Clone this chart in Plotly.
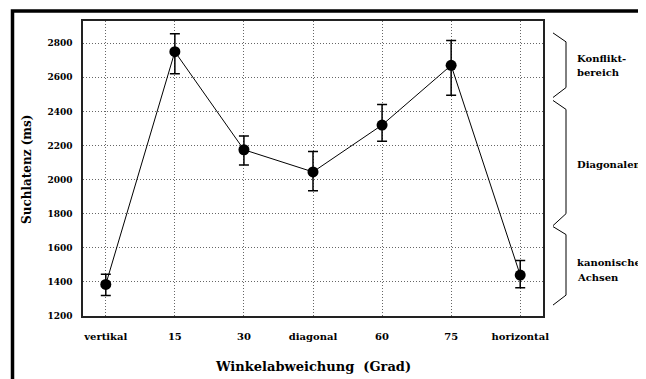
import plotly.graph_objects as go

categories = ["vertikal", "15", "30", "diagonal", "60", "75", "horizontal"]
means = [1385, 2750, 2175, 2045, 2320, 2670, 1440]
err_plus = [60, 105, 80, 120, 120, 145, 85]
err_minus = [65, 130, 90, 110, 95, 175, 75]
y_ticks = [1200, 1400, 1600, 1800, 2000, 2200, 2400, 2600, 2800]
group_labels = [["Konflikt-", "bereich"], ["Diagonalen"], ["kanonische", "Achsen"]]

# page body has an 8px default margin
OFF = 8
WIN_W, WIN_H = 646, 379
W, H = WIN_W - OFF, WIN_H - OFF
# plot area in window pixels: x 83..543, y 19..316
PL, PR, PT, PB = 83, 543, 19, 316
L, R, T, B = PL - OFF, W - (PR - OFF), PT - OFF, H - (PB - OFF)
PW, PH = PR - PL, PB - PT

def xp(px):
    return (px - PL) / PW

def yp(py):
    return (PB - py) / PH

FONT = "DejaVu Serif"

fig = go.Figure()
fig.add_trace(go.Scatter(
    x=categories, y=means, mode="lines+markers",
    line=dict(color="black", width=1),
    marker=dict(color="black", size=11),
    error_y=dict(type="data", array=err_plus, arrayminus=err_minus,
                 color="black", thickness=1.5, width=5),
    showlegend=False,
))

shapes = []
shapes.append(dict(type="path", xref="paper", yref="paper",
                   path=f"M {xp(12.5)} {yp(400)} L {xp(12.5)} {yp(9)} L {xp(680)} {yp(9)}",
                   line=dict(color="black", width=3.5)))
brackets = [
    [(553, 31), (566, 40), (566, 86), (553, 96)],
    [(553, 99), (566, 108), (566, 213), (553, 225)],
    [(553, 226), (566, 234), (566, 295), (553, 305)],
]
for br in brackets:
    p = "M " + " L ".join(f"{xp(a)} {yp(b)}" for a, b in br)
    shapes.append(dict(type="path", xref="paper", yref="paper", path=p,
                       line=dict(color="black", width=1)))

annotations = []
label_pos = [[57, 71], [163], [262, 277]]
for lines, ys in zip(group_labels, label_pos):
    for t, y in zip(lines, ys):
        annotations.append(dict(text=t, xref="paper", yref="paper", x=xp(575), y=yp(y),
                                xanchor="left", yanchor="middle", showarrow=False,
                                font=dict(family=FONT, size=10, color="black", weight="bold")))
annotations.append(dict(text="Winkelabweichung  (Grad)", xref="paper", yref="paper",
                        x=xp(313), y=yp(367), xanchor="center", yanchor="middle", showarrow=False,
                        font=dict(family=FONT, size=13, color="black", weight="bold")))
annotations.append(dict(text="Suchlatenz (ms)", xref="paper", yref="paper",
                        x=xp(27), y=yp(169), xanchor="center", yanchor="middle", showarrow=False,
                        textangle=-90,
                        font=dict(family=FONT, size=12, color="black", weight="bold")))

fig.update_layout(
    width=W, height=H,
    margin=dict(l=L, r=R, t=T, b=B),
    paper_bgcolor="white", plot_bgcolor="white",
    shapes=shapes, annotations=annotations,
    font=dict(family=FONT, color="black"),
    xaxis=dict(type="category", range=[-0.33, 6.33], showgrid=True,
               gridcolor="#666", griddash="1px,2px", gridwidth=1,
               showline=True, linecolor="#222", linewidth=1.5, mirror=True,
               ticks="", ticklabelstandoff=10,
               tickfont=dict(family=FONT, size=10, color="black", weight="bold")),
    yaxis=dict(range=[1200, 2930], tickvals=y_ticks, showgrid=True,
               gridcolor="#666", griddash="1px,2px", gridwidth=1,
               showline=True, linecolor="#222", linewidth=1.5, mirror=True,
               zeroline=False, ticks="", ticklabelstandoff=7,
               tickfont=dict(family=FONT, size=9, color="black", weight="bold")),
)

fig.write_html("out.html")
